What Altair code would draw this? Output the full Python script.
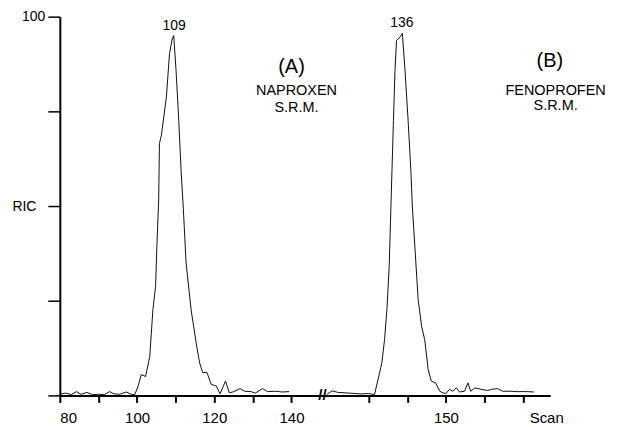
import altair as alt
import pandas as pd

# Segment (A): scans on the left part of the axis
scan_a = [80, 81.5, 83, 84.3, 85.5, 87, 88.5, 90, 91.5, 92.9, 94, 95.5, 97.2, 98.5, 99.4,
          100.3, 101.1, 102.2, 103.3, 104.1, 104.8, 105.1, 105.6, 105.8, 106.3, 107.6, 108.4,
          109.1, 109.5, 110.1, 110.8, 111.4, 112.0, 112.7, 114.0, 115.3, 116.2, 117.0, 118.1,
          119.2, 120.5, 121.5, 122.9, 123.9, 124.8, 126.7, 127.8, 129.5, 130.6, 132.5, 133.8,
          136.0, 137.5, 139.4]
ric_a = [0.3, 0.6, 0.2, 1.0, 0.3, 0.8, 0.2, 0.3, 0.2, 1.0, 0.4, 0.3, 0.9, 0.3, 0.2,
         2.5, 5.5, 5.0, 10.3, 22.6, 28.8, 38.4, 51.6, 66.5, 68.7, 78.8, 90.2,
         94.1, 95.0, 85.8, 72.6, 59.5, 49.0, 35.0, 22.6, 13.9, 8.6, 6.0, 6.1,
         2.9, 2.5, 0.4, 3.8, 0.7, 0.9, 1.8, 1.1, 1.0, 0.6, 1.8, 1.0,
         1.1, 0.9, 1.0]

# Segment (B): scans on the right part of the axis (after the break)
scan_b = [119.2, 120.5, 122, 125, 128, 130, 131.5, 133.4, 134.1, 134.7, 135.3, 135.8, 136.4,
          136.8, 137.2, 138.1, 138.7, 139.4, 140.2, 140.9, 141.3, 142.0, 142.8, 143.7, 144.5,
          145.4, 146.2, 147.3, 148.4, 149.2, 150.0, 150.9, 151.8, 152.7, 153.5, 154.8, 155.7,
          156.4, 157.5, 159.1, 160.8, 161.8, 163.4, 164.7, 166.8, 168.5, 171.1, 172.8]
ric_b = [0.3, 1.2, 0.8, 0.6, 0.4, 0.5, 0.2, 8.6, 14.7, 22.6, 34.0, 51.6, 72.6,
         85.8, 93.7, 94.6, 95.6, 85.8, 72.6, 59.5, 49.8, 38.4, 25.3, 18.2, 14.7,
         6.8, 3.8, 3.3, 1.1, 0.7, 0.5, 1.6, 1.1, 2.0, 0.9, 1.1, 3.3,
         1.1, 2.0, 1.6, 1.3, 1.6, 1.8, 1.1, 1.1, 1.0, 1.0, 0.9]

OFFSET = 30  # right segment is drawn shifted past the axis break
BREAK_AT = 148

x_ticks = [80, 90, 100, 110, 120, 130, 140, 160, 170, 180, 190, 200]
y_ticks = [0, 25, 50, 75, 100]

peak_pos = [109.6, 138.6 + OFFSET]
peak_val = [95.0, 95.6]
peak_text = ["109", "136"]

ann_pos = [140.0, 141.3, 141.3, 206.9, 208.4, 208.4]
ann_val = [86.8, 80.3, 76.0, 88.3, 80.3, 76.3]
ann_text = ["(A)", "NAPROXEN", "S.R.M.", "(B)", "FENOPROFEN", "S.R.M."]
ann_size = [20, 14.5, 14.5, 20, 14.5, 14.5]

FONT = "Liberation Sans"

df = pd.concat([
    pd.DataFrame({"pos": scan_a, "ric": ric_a, "seg": "A"}),
    pd.DataFrame({"pos": [s + OFFSET for s in scan_b], "ric": ric_b, "seg": "B"}),
])

xscale = alt.Scale(domain=[80, 207], nice=False, zero=False)
yscale = alt.Scale(domain=[0, 100], nice=False)

x_axis = alt.Axis(
    values=x_ticks, title="Scan", grid=False,
    labelExpr="datum.value == 180 ? '150' : (datum.value <= 140 && datum.value % 20 == 0 ? datum.label : '')",
    labelFont=FONT, labelFontSize=15, labelColor="black", labelPadding=8,
    tickSize=7, tickWidth=2, tickColor="black",
    domainWidth=2, domainColor="black",
    titleFont=FONT, titleFontSize=15, titleFontWeight="normal", titleColor="black",
    titleX=488, titleY=27, titleAlign="center", titleBaseline="alphabetic",
)
y_axis = alt.Axis(
    values=y_ticks, title=None, grid=False,
    labelExpr="datum.value == 100 ? '100' : (datum.value == 50 ? 'RIC' : '')",
    labelFont=FONT, labelFontSize=14, labelColor="black",
    labelPadding={"condition": {"test": "datum.value == 50", "value": 12}, "value": 3},
    tickSize=12, tickWidth=1.5, tickColor="black",
    domainWidth=2, domainColor="black",
)

lines = alt.Chart(df).mark_line(color="#111", strokeWidth=1).encode(
    x=alt.X("pos:Q", scale=xscale, axis=x_axis),
    y=alt.Y("ric:Q", scale=yscale, axis=y_axis),
    detail="seg:N",
)

peaks = alt.Chart(pd.DataFrame({"pos": peak_pos, "ric": peak_val, "t": peak_text})).mark_text(
    font=FONT, fontSize=14, baseline="bottom", dy=-3, color="black"
).encode(x=alt.X("pos:Q", scale=xscale), y=alt.Y("ric:Q", scale=yscale), text="t:N")

ann = alt.Chart(pd.DataFrame({"pos": ann_pos, "ric": ann_val, "t": ann_text, "fs": ann_size})).mark_text(
    font=FONT, baseline="middle", align="center", color="black"
).encode(
    x=alt.X("pos:Q", scale=xscale), y=alt.Y("ric:Q", scale=yscale), text="t:N",
    size=alt.Size("fs:Q", scale=None, legend=None),
)

brk = alt.Chart(pd.DataFrame({"pos": [BREAK_AT], "ric": [0], "t": ["//"]})).mark_text(
    font=FONT, fontSize=15, fontWeight="bold", baseline="middle", align="center", color="black"
).encode(x=alt.X("pos:Q", scale=xscale), y=alt.Y("ric:Q", scale=yscale), text="t:N")

chart = alt.layer(lines, peaks, ann, brk).properties(
    width=492, height=380,
    autosize=alt.AutoSizeParams(type="none"),
    padding={"left": 52, "top": 8, "right": 63, "bottom": 30},
    background="white",
).configure_view(stroke=None)

chart.save("out.html", embed_options={"renderer": "svg", "actions": False})
